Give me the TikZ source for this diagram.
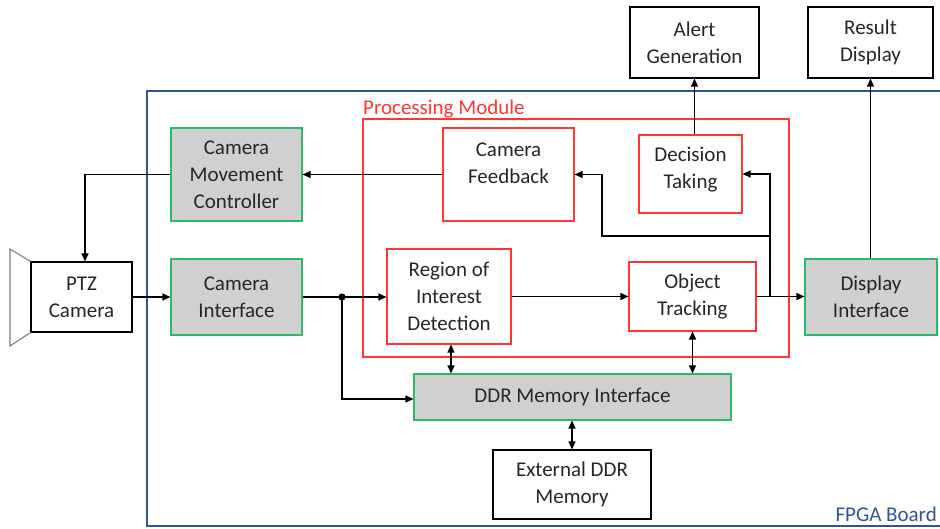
\documentclass[tikz,border=0pt]{standalone}
\usepackage{fontspec}
\setmainfont{Carlito}
\usetikzlibrary{arrows.meta,calc}
\definecolor{boardblue}{HTML}{2F5597}
\definecolor{procred}{HTML}{FF3535}
\definecolor{ifgreen}{HTML}{2DB86A}
\definecolor{iffill}{HTML}{D0D0D0}
\definecolor{txtgray}{HTML}{262626}
\definecolor{lensgray}{HTML}{7F7F7F}
\begin{document}
\begin{tikzpicture}[x=1pt,y=-1pt,
  every node/.style={font=\fontsize{21}{27}\selectfont, text=txtgray},
  blk/.style={draw=black, line width=1.1pt, align=center, inner sep=0pt},
  procblk/.style={draw=procred, line width=1.1pt, align=center, inner sep=0pt},
  ifblk/.style={draw=ifgreen, fill=iffill, line width=1.1pt, align=center, inner sep=0pt},
  txt/.style={align=center, inner sep=0pt},
  arr/.style={-{Triangle[length=8pt,width=7pt]}, line width=1.1pt},
  darr/.style={{Triangle[length=8pt,width=7pt]}-{Triangle[length=8pt,width=7pt]}, line width=1.1pt}]
\useasboundingbox (0,0) rectangle (940,529);

% FPGA board outline
\draw[boardblue, line width=1.1pt] (147,91) rectangle (942,526);
\node[anchor=base east, text=boardblue, inner sep=0pt] (boardlbl) at (937,521) {FPGA Board};

% processing module outline
\draw[procred, line width=1.1pt] (363,119) rectangle (789,357);
\node[anchor=base west, text=procred, inner sep=0pt] (proclbl) at (363,115) {Processing Module};

% external blocks
\node[blk, minimum width=129pt, minimum height=71pt] (alert) at (694.5,42.5) {Alert\\Generation};
\node[blk, minimum width=125pt, minimum height=71pt] (result) at (870.5,42.5) {Result\\Display};
\node[blk, minimum width=101pt, minimum height=70pt] (ptz) at (81.5,297) {PTZ\\Camera};
\node[blk, minimum width=158pt, minimum height=69pt] (ext) at (572,484.5) {External DDR\\Memory};

% camera lens
\draw[lensgray, line width=1.1pt] (ptz.north west) -- (10,249) -- (10,346) -- (ptz.south west);

% interface blocks
\node[ifblk, minimum width=131pt, minimum height=93pt] (cmc) at (236.5,174.5) {Camera\\Movement\\Controller};
\node[ifblk, minimum width=131pt, minimum height=76pt] (camif) at (236.5,297) {Camera\\Interface};
\node[ifblk, minimum width=132pt, minimum height=76pt] (dispif) at (871,297) {Display\\Interface};
\node[ifblk, minimum width=317pt, minimum height=46pt] (ddr) at (572.5,397) {DDR Memory Interface};

% processing blocks
\node[procblk, minimum width=131pt, minimum height=93pt] (feedback) at (508.5,174.5) {};
\node[txt] (feedbacktxt) at ([yshift=11pt]feedback.center) {Camera\\Feedback};
\node[procblk, minimum width=103pt, minimum height=78pt] (decision) at (690.5,174) {};
\node[txt] (decisiontxt) at ([yshift=4.5pt]decision.center) {Decision\\Taking};
\node[procblk, minimum width=124pt, minimum height=95pt] (roi) at (449,296.5) {Region of\\Interest\\Detection};
\node[procblk, minimum width=127pt, minimum height=69pt] (track) at (692.5,296.5) {Object\\Tracking};

% connectors
\draw[arr] (feedback.west) -- (cmc.east);
\draw[arr] (cmc.west) -| ([xshift=3.5pt]ptz.north);
\draw[arr] (ptz.east) -- (camif.west);
\coordinate (split) at (342,297);
\draw[arr] (camif.east) -- (camif.east -| roi.west);
\fill (split) circle (3.6pt);
\draw[arr] (split) |- ([yshift=-2pt]ddr.west);
\draw[arr] (roi.east) -- (roi.east -| track.west);
\draw[arr] (track.east) -- (track.east -| dispif.west);
\coordinate (tap) at (770,296.5);
\coordinate (fbk) at (770,236);
\coordinate (bend) at (602,236);
\draw[arr] (tap) |- (decision.east);
\draw[arr] (fbk) -- (bend) |- (feedback.east);
\draw[arr] (decision.north -| alert.south) -- (alert.south);
\draw[arr] (dispif.north -| result.south) -- (result.south);
\draw[darr] ([xshift=2pt]roi.south) -- ([xshift=2pt]roi.south |- ddr.north);
\draw[darr] (track.south) -- (track.south |- ddr.north);
\draw[darr] (ddr.south -| ext.north) -- (ext.north);
\end{tikzpicture}
\end{document}
